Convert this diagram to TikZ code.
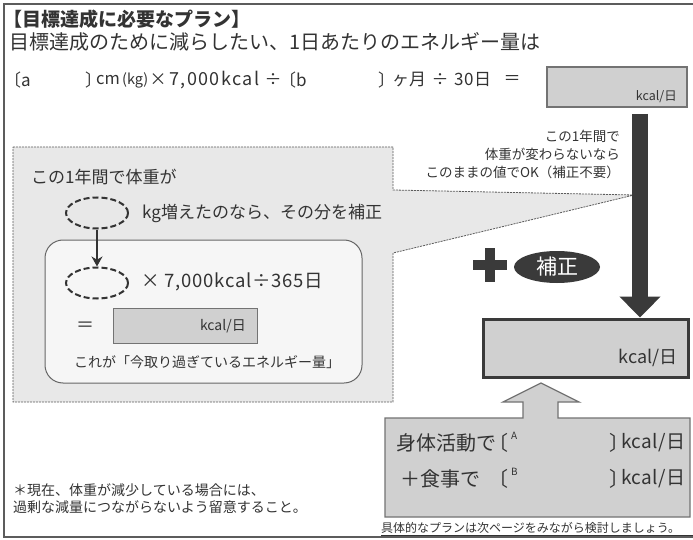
\documentclass[tikz,border=0pt]{standalone}
\usepackage{fontspec}
\setmainfont{Noto Sans CJK JP}
\usetikzlibrary{shapes.geometric,arrows.meta}
\definecolor{ink}{HTML}{333333}
\definecolor{boxgray}{HTML}{D0D0D0}
\definecolor{callout}{HTML}{E8E8E8}
\definecolor{dark}{HTML}{3A3A3A}
\newcommand{\fs}[1]{\fontsize{#1}{#1}\selectfont}
\newcommand{\wide}[1]{\addfontfeatures{LetterSpace=#1}}
\tikzset{
  txt/.style={inner sep=0pt, text=ink},
  ell/.style={ellipse, draw=ink, dashed, dash pattern=on 6pt off 3pt, line width=2pt, minimum width=62pt, minimum height=31pt, inner sep=0pt},
  graybox/.style={fill=boxgray, draw=gray!90!black, line width=1.2pt},
}
\begin{document}
\begin{tikzpicture}[x=1pt,y=-1pt]
\useasboundingbox (0,0) rectangle (693,540);
\fill[white] (0,0) rectangle (693,540);
\draw[ink!80, line width=1.2pt] (4,4) rectangle (700,537);

% title and top lines
\node[txt, anchor=west, font=\fs{19}\bfseries] (title) at (3,19) {【目標達成に必要なプラン】};
\node[txt, anchor=west, font=\fs{20}] (line2) at (9,42) {目標達成のために減らしたい、1日あたりのエネルギー量は};

\node[txt, anchor=west, font=\fs{17}] (f1) at (4,80) {〔a};
\node[txt, anchor=west, font=\fs{17}] (f2) at (85,80) {〕};
\node[txt, anchor=west, font=\fs{16.5}] (f2b) at (96,80) {cm};
\node[txt, anchor=west, font=\fs{14.5}] (f2c) at (122,80) {(kg)};
\node[txt, font=\fs{17}] (f3) at (158,80) {×};
\node[txt, anchor=west, font=\fs{18}\wide{8}] (f4) at (169,80) {7,000kcal};
\node[txt, font=\fs{17}] (f5) at (273,80) {÷};
\node[txt, anchor=west, font=\fs{17}] (f6) at (279,80) {〔b};
\node[txt, anchor=west, font=\fs{17}] (f7) at (378,80) {〕};
\node[txt, anchor=west, font=\fs{17}] (f7b) at (392,80) {ヶ月};
\node[txt, font=\fs{17}] (f8) at (440,80) {÷};
\node[txt, anchor=west, font=\fs{17}\wide{3}] (f9) at (454,80) {30日};
\node[txt, font=\fs{17}] (f10) at (512,80) {＝};

% box 1
\node[graybox, minimum width=140pt, minimum height=40pt, inner sep=0pt] (box1) at (617,87) {};
\node[txt, anchor=east, font=\fs{12.5}] (box1u) at (677,97) {kcal/日};

% callout
\draw[ink!80, fill=callout, dashed, dash pattern=on 2pt off 1pt, line width=0.8pt]
  (13,147) -- (393,147) -- (393,190) -- (634,195) -- (393,253) -- (393,402) -- (13,402) -- cycle;
\draw[ink!75, fill=white!60!callout, line width=1pt, rounded corners=18pt] (45,240) rectangle (362,383);

\node[txt, anchor=west, font=\fs{17}] (c1) at (31,177) {この1年間で体重が};
\node[ell] (e1) at (97,213) {};
\node[txt, anchor=west, font=\fs{17}] (c2) at (142,213) {kg増えたのなら、その分を補正};
\node[ell] (e2) at (97,283) {};
\draw[ink, line width=2.6pt, -{Stealth[length=10pt,width=11pt]}] (e1) -- (e2);
\node[txt, anchor=west, font=\fs{18.5}\wide{4}] (c3) at (141,282) {× 7,000kcal÷365日};
\node[txt, font=\fs{18}] (eq2) at (85,327) {＝};
\node[graybox, line width=0.8pt, minimum width=144pt, minimum height=35pt, inner sep=0pt] (box2) at (185,325.5) {};
\node[txt, anchor=east, font=\fs{14}] (box2u) at (246,326) {kcal/日};
\node[txt, font=\fs{14}] (c4) at (207,362) {これが「今取り過ぎているエネルギー量」};

% right notes
\node[txt, anchor=east, font=\fs{13.5}] (r1) at (620,136) {この1年間で};
\node[txt, anchor=east, font=\fs{13.5}] (r2) at (620,154) {体重が変わらないなら};
\node[txt, anchor=east, font=\fs{13.5}] (r3) at (620,172) {このままの値でOK（補正不要）};

% box 3
\node[fill=boxgray, draw=dark, line width=3pt, minimum width=205pt, minimum height=58pt, inner sep=0pt] (box3) at (585.5,348) {};
\node[txt, anchor=east, font=\fs{18}] (box3u) at (678,358) {kcal/日};

% big dark arrow
\coordinate (arrtop) at (640,114);
\draw[dark, line width=16pt, -{Triangle[width=40pt,length=21pt]}] (arrtop) -- (arrtop |- box3.north);

% plus + hosei
\fill[dark] (473,260) rectangle (507,270);
\fill[dark] (485,248) rectangle (495,282);
\node[ellipse, fill=dark, minimum width=86pt, minimum height=32pt, inner sep=0pt, text=white, font=\fs{21}] (hosei) at (557,267) {補正};

% box 4 with up arrow
\draw[fill=boxgray, draw=gray!90!black, line width=1.3pt]
  (385,418) -- (523,418) -- (523,402) -- (503,402) -- (541,383) -- (579,402) -- (558,402) -- (558,418)
  -- (690,418) -- (690,517) -- (385,517) -- cycle;
\node[txt, anchor=west, font=\fs{20}] (b1) at (396,443) {身体活動で};
\node[txt, anchor=west, font=\fs{20}] (b1b) at (488,443) {〔};
\node[txt, anchor=west, font=\fs{10}] (b1c) at (511,436) {A};
\node[txt, anchor=west, font=\fs{20}] (b1d) at (609,443) {〕};
\node[txt, anchor=west, font=\fs{19}\wide{2}] (b1e) at (621,443) {kcal/日};
\node[txt, anchor=west, font=\fs{20}] (b2) at (400,479) {＋食事で};
\node[txt, anchor=west, font=\fs{20}] (b2b) at (488,479) {〔};
\node[txt, anchor=west, font=\fs{10}] (b2c) at (511,472) {B};
\node[txt, anchor=west, font=\fs{20}] (b2d) at (609,479) {〕};
\node[txt, anchor=west, font=\fs{19}\wide{2}] (b2e) at (621,479) {kcal/日};

\node[txt, anchor=west, font=\fs{12}] (note) at (381,528) {具体的なプランは次ページをみながら検討しましょう。};
\draw[ink, line width=0.8pt] (note.south west) ++(0,2) -- ++(312,0);

% footnote
\node[txt, anchor=west, font=\fs{14}] (fn1) at (13,490) {＊現在、体重が減少している場合には、};
\node[txt, anchor=west, font=\fs{14}] (fn2) at (13,507) {過剰な減量につながらないよう留意すること。};
\end{tikzpicture}
\end{document}
